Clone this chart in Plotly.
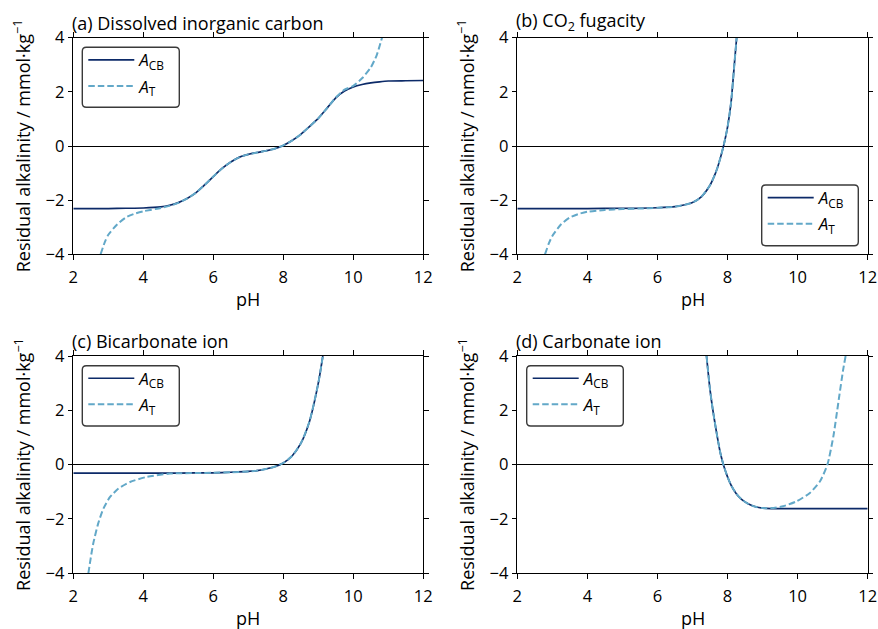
import plotly.graph_objects as go

W, H = 878, 629

# ---------------- data ----------------
# (a) Dissolved inorganic carbon
a_ph_cb = [2.0, 2.5, 3.0, 3.5, 4.0, 4.5, 4.75, 5.0, 5.25, 5.5, 5.75, 6.0, 6.25, 6.5, 6.75, 7.0, 7.25,
           7.5, 7.75, 8.0, 8.25, 8.5, 8.75, 9.0, 9.25, 9.5, 9.75, 10.0, 10.25, 10.5, 10.75, 11.0, 11.5, 12.0]
a_ra_cb = [-2.31, -2.31, -2.31, -2.30, -2.29, -2.25, -2.19, -2.09, -1.94, -1.73, -1.44, -1.13, -0.83,
           -0.59, -0.41, -0.31, -0.24, -0.18, -0.10, 0.02, 0.20, 0.43, 0.72, 1.02, 1.40, 1.78, 2.03,
           2.18, 2.27, 2.33, 2.37, 2.40, 2.41, 2.42]
a_ph_t = [2.78, 2.9, 3.0, 3.25, 3.5, 3.75, 4.0, 4.5, 4.75, 5.0, 5.25, 5.5, 5.75, 6.0, 6.25, 6.5, 6.75,
          7.0, 7.25, 7.5, 7.75, 8.0, 8.25, 8.5, 8.75, 9.0, 9.25, 9.5, 9.75, 10.0, 10.25, 10.5, 10.67, 10.82]
a_ra_t = [-4.0, -3.55, -3.28, -2.90, -2.64, -2.50, -2.41, -2.29, -2.21, -2.10, -1.94, -1.73, -1.44,
          -1.13, -0.83, -0.59, -0.41, -0.31, -0.24, -0.18, -0.10, 0.02, 0.20, 0.43, 0.72, 1.02, 1.40,
          1.79, 2.08, 2.22, 2.50, 2.90, 3.36, 4.0]

# (b) CO2 fugacity
b_ph_cb = [2.0, 3.0, 4.0, 5.0, 5.5, 6.0, 6.5, 6.75, 7.0, 7.25, 7.5, 7.6, 7.7, 7.8, 7.9, 8.0, 8.1, 8.2, 8.26]
b_ra_cb = [-2.31, -2.31, -2.31, -2.30, -2.30, -2.28, -2.24, -2.18, -2.09, -1.88, -1.45, -1.18, -0.85,
           -0.42, 0.08, 0.70, 1.60, 3.10, 4.0]
b_ph_t = [2.79, 2.9, 3.0, 3.25, 3.5, 3.75, 4.0, 4.5, 5.0, 5.5, 6.0, 6.5, 6.75, 7.0, 7.25, 7.5, 7.6, 7.7,
          7.8, 7.9, 8.0, 8.1, 8.2, 8.26]
b_ra_t = [-4.0, -3.6, -3.32, -2.89, -2.64, -2.51, -2.43, -2.36, -2.33, -2.31, -2.28, -2.24, -2.18,
          -2.09, -1.88, -1.45, -1.18, -0.85, -0.42, 0.08, 0.70, 1.60, 3.10, 4.0]

# (c) Bicarbonate ion
c_ph_cb = [2.0, 3.0, 4.0, 5.0, 6.0, 6.5, 7.0, 7.25, 7.5, 7.75, 8.0, 8.25, 8.5, 8.75, 9.0, 9.13]
c_ra_cb = [-0.31, -0.31, -0.31, -0.31, -0.30, -0.28, -0.25, -0.22, -0.16, -0.08, 0.06, 0.32, 0.78,
           1.60, 3.00, 4.0]
c_ph_t = [2.43, 2.5, 2.57, 2.71, 2.86, 3.05, 3.29, 3.62, 4.10, 4.76, 5.5, 6.0, 6.5, 7.0, 7.25, 7.5,
          7.75, 8.0, 8.25, 8.5, 8.75, 9.0, 9.13]
c_ra_t = [-4.0, -3.42, -2.90, -2.17, -1.62, -1.19, -0.88, -0.64, -0.45, -0.33, -0.31, -0.30, -0.28,
          -0.25, -0.22, -0.16, -0.08, 0.06, 0.32, 0.78, 1.60, 3.00, 4.0]

# (d) Carbonate ion
d_ph_cb = [7.40, 7.5, 7.6, 7.7, 7.8, 7.9, 8.0, 8.1, 8.25, 8.4, 8.6, 8.8, 9.0, 9.25, 10.0, 11.0, 12.0]
d_ra_cb = [4.0, 2.76, 1.85, 1.08, 0.40, -0.08, -0.45, -0.75, -1.07, -1.28, -1.45, -1.55, -1.60,
           -1.62, -1.62, -1.62, -1.62]
d_ph_t = [7.40, 7.5, 7.6, 7.7, 7.8, 7.9, 8.0, 8.1, 8.25, 8.4, 8.6, 8.8, 9.0, 9.25, 9.59, 9.97,
          10.35, 10.64, 10.85, 11.02, 11.16, 11.30, 11.37]
d_ra_t = [4.0, 2.76, 1.85, 1.08, 0.40, -0.08, -0.45, -0.75, -1.07, -1.28, -1.45, -1.55, -1.60,
          -1.60, -1.53, -1.35, -1.04, -0.61, 0.0, 1.04, 2.27, 3.50, 4.0]

panel_titles = ["(a) Dissolved inorganic carbon", "(b) CO<sub>2</sub> fugacity",
                "(c) Bicarbonate ion", "(d) Carbonate ion"]
x_ticks = [2, 4, 6, 8, 10, 12]
y_ticks = [-4, -2, 0, 2, 4]
name_cb = "<i>A</i><sub>CB</sub>"
name_t = "<i>A</i><sub>T</sub>"

# ---------------- styling ----------------
C_CB = "#0c2a68"
C_T = "#62a8c8"
FONT = "Open Sans"

xdom_l = [73.3 / W, 423.3 / W]
xdom_r = [517.3 / W, 867.7 / W]
ydom_t = [1 - 254.3 / H, 1 - 37.7 / H]
ydom_b = [1 - 573.3 / H, 1 - 356.0 / H]

# legend frame boxes in pixels (left, top, right, bottom)
leg_boxes = [(82.3, 47.3, 179.3, 107.3), (761.7, 185.0, 858.3, 245.7),
             (82.3, 365.7, 179.3, 426.0), (526.7, 365.7, 623.3, 426.0)]

panels = [
    (a_ph_cb, a_ra_cb, a_ph_t, a_ra_t, xdom_l, ydom_t),
    (b_ph_cb, b_ra_cb, b_ph_t, b_ra_t, xdom_r, ydom_t),
    (c_ph_cb, c_ra_cb, c_ph_t, c_ra_t, xdom_l, ydom_b),
    (d_ph_cb, d_ra_cb, d_ph_t, d_ra_t, xdom_r, ydom_b),
]


def rounded_box(l, t, r, b, rad=4.0):
    X = lambda p: p / W
    Y = lambda p: 1 - p / H
    return (f"M {X(l + rad)},{Y(t)} L {X(r - rad)},{Y(t)} Q {X(r)},{Y(t)} {X(r)},{Y(t + rad)} "
            f"L {X(r)},{Y(b - rad)} Q {X(r)},{Y(b)} {X(r - rad)},{Y(b)} "
            f"L {X(l + rad)},{Y(b)} Q {X(l)},{Y(b)} {X(l)},{Y(b - rad)} "
            f"L {X(l)},{Y(t + rad)} Q {X(l)},{Y(t)} {X(l + rad)},{Y(t)} Z")


fig = go.Figure()
layout = dict(
    width=W, height=H,
    margin=dict(l=0, r=0, t=0, b=0, autoexpand=False),
    paper_bgcolor="white", plot_bgcolor="white",
    font=dict(family=FONT, size=16, color="black"),
    showlegend=True,
)
annotations = []
shapes = []

for i, (pcb, rcb, pt, rt, xd, yd) in enumerate(panels):
    k = i + 1
    sx = "" if k == 1 else str(k)
    leg = "legend" if k == 1 else f"legend{k}"
    fig.add_trace(go.Scatter(
        x=pcb, y=rcb, mode="lines", name=name_cb,
        line=dict(color=C_CB, width=1.7, shape="spline", smoothing=0.6),
        xaxis=f"x{sx}", yaxis=f"y{sx}", legend=leg, legendgroup=f"{k}cb"))
    fig.add_trace(go.Scatter(
        x=pt, y=rt, mode="lines", name=name_t,
        line=dict(color=C_T, width=2.0, dash="6.5px,3px", shape="spline", smoothing=0.6),
        xaxis=f"x{sx}", yaxis=f"y{sx}", legend=leg, legendgroup=f"{k}t"))

    axis_common = dict(
        showline=True, linecolor="black", linewidth=1.2, mirror="ticks",
        ticks="outside", ticklen=4.5, tickwidth=1.2, tickcolor="black",
        showgrid=False, tickfont=dict(family=FONT, size=16.5, color="black"),
    )
    layout[f"xaxis{sx}"] = dict(
        domain=xd, range=[2, 12], tickvals=x_ticks, anchor=f"y{sx}",
        zeroline=False, ticklabelstandoff=3, **axis_common)
    layout[f"yaxis{sx}"] = dict(
        domain=yd, range=[-4, 4], tickvals=y_ticks, anchor=f"x{sx}",
        zeroline=True, zerolinecolor="black", zerolinewidth=1.1, **axis_common)

    l, t, r, b = leg_boxes[i]
    shapes.append(dict(type="path", xref="paper", yref="paper", path=rounded_box(l, t, r, b),
                       fillcolor="white", line=dict(color="#3a3a3a", width=1.4), layer="above"))
    layout[leg] = dict(
        x=(l + 1) / W, y=1 - (t - 5) / H, xanchor="left", yanchor="top",
        bgcolor="rgba(0,0,0,0)", borderwidth=0,
        font=dict(family=FONT, size=17, color="black"),
        traceorder="grouped", tracegroupgap=1, itemwidth=46)

    # panel title
    annotations.append(dict(
        text=panel_titles[i], x=xd[0], y=yd[1], xref="paper", yref="paper",
        xanchor="left", yanchor="bottom", yshift=1, xshift=-3, showarrow=False,
        font=dict(family=FONT, size=18, color="black")))
    # x-axis title
    annotations.append(dict(
        text="pH", x=(xd[0] + xd[1]) / 2, y=yd[0], xref="paper", yref="paper",
        xanchor="center", yanchor="top", yshift=-31, showarrow=False,
        font=dict(family=FONT, size=18, color="black")))
    # y-axis title
    annotations.append(dict(
        text="Residual alkalinity / mmol·kg<sup>−1</sup>", x=xd[0], y=(yd[0] + yd[1]) / 2,
        xref="paper", yref="paper", xanchor="center", yanchor="middle", xshift=-51,
        textangle=-90, showarrow=False,
        font=dict(family=FONT, size=18, color="black")))

layout["annotations"] = annotations
layout["shapes"] = shapes
fig.update_layout(**layout)
fig.write_html("out.html", config={"displayModeBar": False},
               post_script="document.body.style.margin='0px';document.body.style.padding='0px';")
